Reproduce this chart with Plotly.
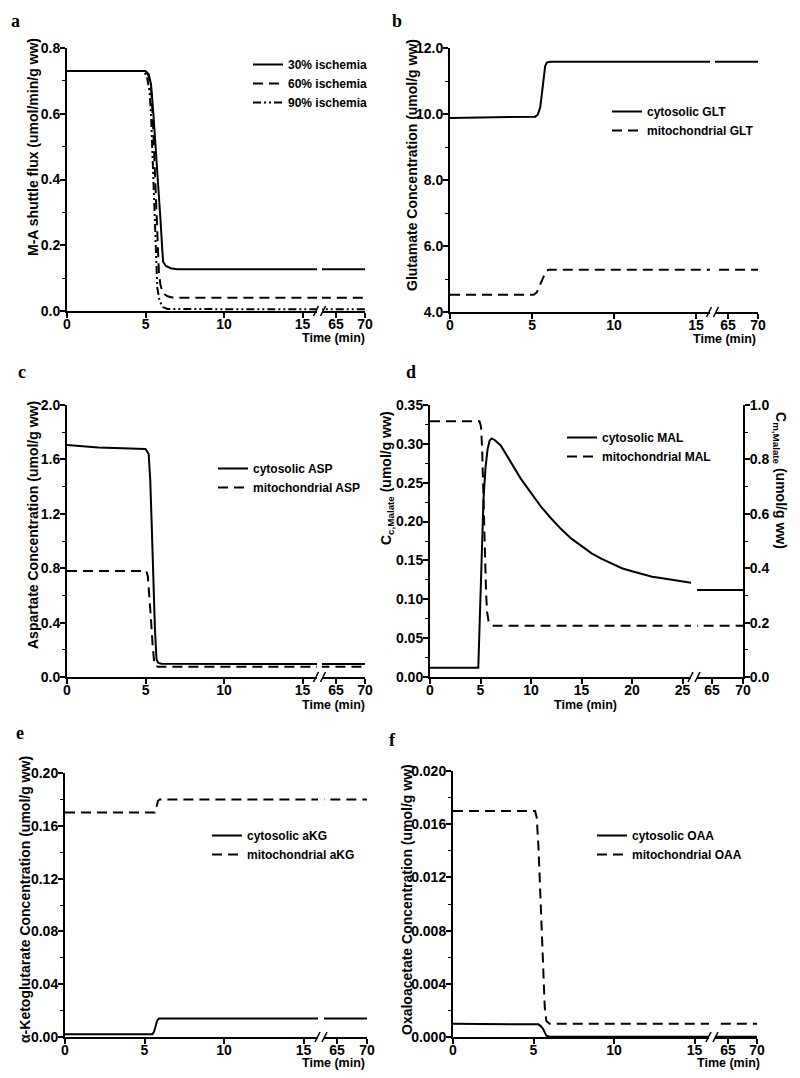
import plotly.graph_objects as go

# page body has an 8px default margin, so the figure is 8px smaller than the window
OFF = 8
W, H = 800 - OFF, 1078 - OFF

# ---------------- data ----------------
# Panel a: M-A shuttle flux
a_t30 = [0, 5.0, 5.2, 5.35, 5.5, 5.65, 5.8, 5.95, 6.05, 6.12, 6.3, 6.6, 7.0, 16.5, 62, 70]
a_v30 = [0.73, 0.73, 0.72, 0.69, 0.60, 0.50, 0.40, 0.28, 0.20, 0.15, 0.137, 0.130, 0.127, 0.127, 0.127, 0.127]
a_t60 = [0, 5.0, 5.2, 5.35, 5.45, 5.55, 5.65, 5.75, 5.85, 5.95, 6.1, 6.4, 6.8, 16.5, 62, 70]
a_v60 = [0.73, 0.73, 0.715, 0.68, 0.60, 0.48, 0.35, 0.20, 0.12, 0.08, 0.055, 0.045, 0.04, 0.04, 0.04, 0.04]
a_t90 = [0, 4.9, 5.1, 5.25, 5.35, 5.45, 5.55, 5.65, 5.75, 5.9, 6.1, 6.4, 16.5, 62, 70]
a_v90 = [0.73, 0.73, 0.71, 0.67, 0.60, 0.45, 0.30, 0.15, 0.07, 0.03, 0.012, 0.006, 0.005, 0.005, 0.005]

# Panel b: glutamate
b_tc = [0, 3, 5.2, 5.35, 5.5, 5.6, 5.7, 5.8, 5.9, 6.1, 16.5, 62, 70]
b_vc = [9.88, 9.90, 9.92, 9.98, 10.2, 10.6, 11.1, 11.45, 11.56, 11.58, 11.58, 11.58, 11.58]
b_tm = [0, 5.1, 5.3, 5.5, 5.7, 5.85, 6.0, 16.5, 62, 70]
b_vm = [4.52, 4.52, 4.60, 4.85, 5.10, 5.24, 5.28, 5.28, 5.28, 5.28]

# Panel c: aspartate
c_tc = [0, 1, 2, 3, 4, 5.0, 5.2, 5.3, 5.4, 5.5, 5.6, 5.7, 5.8, 6.0, 16.5, 62, 70]
c_vc = [1.705, 1.695, 1.688, 1.683, 1.680, 1.677, 1.64, 1.45, 1.10, 0.70, 0.35, 0.13, 0.105, 0.097, 0.095, 0.095, 0.095]
c_tm = [0, 5.05, 5.15, 5.25, 5.35, 5.45, 5.55, 5.65, 5.8, 16.5, 62, 70]
c_vm = [0.78, 0.78, 0.74, 0.60, 0.42, 0.24, 0.11, 0.08, 0.075, 0.075, 0.075, 0.075]

# Panel d: malate (cytosolic on left axis, mitochondrial on right axis)
d_tc = [0, 4.78, 5.3, 5.5, 5.7, 5.9, 6.1, 6.4, 7, 8, 9, 10, 11, 12, 13, 14, 15, 16, 17, 18,
        19, 20, 21, 22, 23, 24, 25, 26, 62, 70]
d_vc = [0.012, 0.012, 0.23, 0.27, 0.293, 0.304, 0.307, 0.305, 0.298, 0.277, 0.255, 0.237, 0.219,
        0.204, 0.190, 0.178, 0.168, 0.159, 0.152, 0.146, 0.140, 0.136, 0.132, 0.129, 0.127,
        0.125, 0.123, 0.121, 0.112, 0.112]
d_tm = [0, 4.9, 5.05, 5.15, 5.25, 5.35, 5.45, 5.55, 5.65, 5.8, 6.0, 6.3, 26, 62, 70]
d_vm = [0.94, 0.94, 0.92, 0.85, 0.72, 0.57, 0.43, 0.31, 0.24, 0.205, 0.193, 0.188, 0.188, 0.188, 0.188]

# Panel e: alpha-ketoglutarate
e_tc = [0, 5.5, 5.6, 5.7, 5.8, 5.9, 16.5, 62, 70]
e_vc = [0.002, 0.002, 0.004, 0.009, 0.0125, 0.014, 0.014, 0.014, 0.014]
e_tm = [0, 5.65, 5.75, 5.85, 5.95, 16.5, 62, 70]
e_vm = [0.17, 0.17, 0.174, 0.179, 0.18, 0.18, 0.18, 0.18]

# Panel f: oxaloacetate
f_tc = [0, 5.1, 5.3, 5.45, 5.6, 5.7, 5.8, 6.0, 16.5, 62, 70]
f_vc = [0.001, 0.001, 0.00095, 0.00082, 0.0006, 0.00035, 0.0001, 0.00002, 0.00002, 0.00002, 0.00002]
f_tm = [0, 5.1, 5.2, 5.3, 5.4, 5.5, 5.6, 5.7, 5.8, 6.0, 16.5, 62, 70]
f_vm = [0.017, 0.017, 0.0165, 0.0145, 0.0115, 0.008, 0.0048, 0.0022, 0.0012, 0.001, 0.001, 0.001, 0.001]

# tick labels
ticks_seg1_15 = [0, 5, 10, 15]
ticks_seg1_25 = [0, 5, 10, 15, 20, 25]
ticks_seg2 = [65, 70]

# ---------------- layout helpers ----------------
FONT = "Liberation Sans"
def px(x):
    return (x - OFF) / W
def py(y):
    return 1 - (y - OFF) / H

# pixel geometry of each panel (window pixels)
panels = [
    dict(x0=67, xe1=317, xs2=322, x1=365, ytop=48, ybot=311, r1=[0, 15.92], r2=[62.59, 70],
         yr=[0, 0.8], ydt=0.2, ymin=0.1, yfmt='.1f', xt1=ticks_seg1_15),
    dict(x0=450, xe1=710, xs2=715, x1=758, ytop=48, ybot=312, r1=[0, 15.85], r2=[62.83, 70],
         yr=[4, 12], ydt=2, ymin=1, yfmt='.1f', xt1=ticks_seg1_15),
    dict(x0=67, xe1=317, xs2=322, x1=365, ytop=405, ybot=677, r1=[0, 15.92], r2=[62.59, 70],
         yr=[0, 2.0], ydt=0.4, ymin=0.2, yfmt='.1f', xt1=ticks_seg1_15),
    dict(x0=430, xe1=691, xs2=697, x1=743, ytop=405, ybot=677, r1=[0, 25.84], r2=[62.58, 70],
         yr=[0, 0.35], ydt=0.05, ymin=0.025, yfmt='.2f', xt1=ticks_seg1_25),
    dict(x0=65, xe1=318, xs2=324, x1=367, ytop=773, ybot=1037, r1=[0, 15.91], r2=[62.83, 70],
         yr=[0, 0.2], ydt=0.04, ymin=0.02, yfmt='.2f', xt1=ticks_seg1_15),
    dict(x0=453, xe1=709, xs2=715, x1=757, ytop=771, ybot=1037, r1=[0, 15.9], r2=[62.76, 70],
         yr=[0, 0.02], ydt=0.004, ymin=0.002, yfmt='.3f', xt1=ticks_seg1_15),
]

tickfont = dict(family=FONT, size=14, color='black', weight='bold')
layout = {}
for i, p in enumerate(panels):
    n1, n2, ny = 2 * i + 1, 2 * i + 2, i + 1
    xa1 = 'xaxis' if n1 == 1 else f'xaxis{n1}'
    xa2 = f'xaxis{n2}'
    ya = 'yaxis' if ny == 1 else f'yaxis{ny}'
    yref = 'y' if ny == 1 else f'y{ny}'
    common_x = dict(showline=True, linewidth=2, linecolor='black', ticks='outside', ticklen=5,
                    tickwidth=1.5, tickcolor='black', showgrid=False, zeroline=False,
                    tickfont=tickfont, fixedrange=True, anchor=yref, automargin=False,
                    ticklabelstandoff=-6)
    layout[xa1] = dict(common_x, domain=[px(p['x0']), px(p['xe1'])], range=p['r1'],
                       tickvals=p['xt1'])
    layout[xa2] = dict(common_x, domain=[px(p['xs2']), px(p['x1'])], range=p['r2'],
                       tickvals=ticks_seg2)
    layout[ya] = dict(domain=[py(p['ybot']), py(p['ytop'])], range=p['yr'],
                      anchor='x' if n1 == 1 else f'x{n1}', automargin=False, fixedrange=True,
                      showline=True, linewidth=2, linecolor='black', ticks='outside', ticklen=5,
                      tickwidth=1.5, tickcolor='black', showgrid=False, zeroline=False,
                      dtick=p['ydt'], tick0=p['yr'][0], tickformat=p['yfmt'], tickfont=tickfont,
                      ticklabelstandoff=-3,
                      minor=dict(dtick=p['ymin'], ticks='outside', ticklen=3, tickwidth=1.2,
                                 tickcolor='black', showgrid=False))

# right axis for panel d
layout['yaxis7'] = dict(overlaying='y4', side='right', anchor='x8', range=[0, 1.0], dtick=0.2,
                        tickformat='.1f', showline=True, linewidth=2, linecolor='black',
                        ticks='outside', ticklen=5, tickwidth=1.5, tickcolor='black',
                        showgrid=False, zeroline=False, tickfont=tickfont, automargin=False,
                        fixedrange=True, ticklabelstandoff=-3,
                        minor=dict(dtick=0.1, ticks='outside', ticklen=3, tickwidth=1.2,
                                   tickcolor='black', showgrid=False))

fig = go.Figure()

DASH = '10px,6px'
DASHDOT = '8px,3px,2px,3px,2px,3px'

def add_series(t, v, i, name, dash, yaxis=None):
    n1, n2 = 2 * i + 1, 2 * i + 2
    xr1 = 'x' if n1 == 1 else f'x{n1}'
    xr2 = f'x{n2}'
    yr = yaxis or ('y' if i == 0 else f'y{i + 1}')
    leg = 'legend' if i == 0 else f'legend{i + 1}'
    line = dict(color='black', width=2, dash=dash)
    fig.add_trace(go.Scatter(x=t, y=v, mode='lines', name=name, line=line, xaxis=xr1, yaxis=yr,
                             legend=leg, legendgroup=f'g{i}', showlegend=True))
    fig.add_trace(go.Scatter(x=t, y=v, mode='lines', name=name, line=line, xaxis=xr2, yaxis=yr,
                             legend=leg, legendgroup=f'g{i}', showlegend=False))

add_series(a_t30, a_v30, 0, '30% ischemia', 'solid')
add_series(a_t60, a_v60, 0, '60% ischemia', DASH)
add_series(a_t90, a_v90, 0, '90% ischemia', DASHDOT)
add_series(b_tc, b_vc, 1, 'cytosolic GLT', 'solid')
add_series(b_tm, b_vm, 1, 'mitochondrial GLT', DASH)
add_series(c_tc, c_vc, 2, 'cytosolic ASP', 'solid')
add_series(c_tm, c_vm, 2, 'mitochondrial ASP', DASH)
add_series(d_tc, d_vc, 3, 'cytosolic MAL', 'solid')
add_series(d_tm, d_vm, 3, 'mitochondrial MAL', DASH, yaxis='y7')
add_series(e_tc, e_vc, 4, 'cytosolic aKG', 'solid')
add_series(e_tm, e_vm, 4, 'mitochondrial aKG', DASH)
add_series(f_tc, f_vc, 5, 'cytosolic OAA', 'solid')
add_series(f_tm, f_vm, 5, 'mitochondrial OAA', DASH)

# legends: (text start x px, first row center y px)
legend_pos = [(288, 64), (647, 111), (253, 468), (602, 437), (247, 835), (632, 835)]
legfont = dict(family=FONT, size=12, color='black', weight='bold')
for i, (lx, ly) in enumerate(legend_pos):
    key = 'legend' if i == 0 else f'legend{i + 1}'
    layout[key] = dict(x=px(lx - 40), y=py(ly - 14), xanchor='left', yanchor='top',
                       bgcolor='rgba(0,0,0,0)', borderwidth=0, font=legfont,
                       tracegroupgap=0, itemclick=False, itemdoubleclick=False)

annotations = []
# y-axis titles (center x px, center y px, text, angle)
ytitles = [
    (33, 147, 'M-A shuttle flux (umol/min/g ww)', -90),
    (412, 165, 'Glutamate Concentration (umol/g ww)', -90),
    (33, 525, 'Aspartate Concentration (umol/g ww)', -90),
    (387, 478, 'C<sub>c,Malate</sub> (umol/g ww)', -90),
    (780, 480, 'C<sub>m,Malate</sub> (umol/g ww)', 90),
    (25, 900, 'α-Ketoglutarate Concentration (umol/g ww)', -90),
    (407, 900, 'Oxaloacetate Concentration (umol/g ww)', -90),
]
for cx, cy, txt, ang in ytitles:
    annotations.append(dict(x=px(cx), y=py(cy), xref='paper', yref='paper', text=txt,
                            textangle=ang, showarrow=False, xanchor='center', yanchor='middle',
                            font=dict(family=FONT, size=14, color='black', weight='bold')))
# x-axis titles
xtitles = [(367, 338, 'right'), (758, 339, 'right'), (367, 705, 'right'),
           (585, 705, 'center'), (367, 1063, 'right'), (762, 1063, 'right')]
for xx, yy, anc in xtitles:
    annotations.append(dict(x=px(xx), y=py(yy), xref='paper', yref='paper', text='Time (min)',
                            showarrow=False, xanchor=anc, yanchor='middle',
                            font=dict(family=FONT, size=12.5, color='black', weight='bold')))
# panel letters
letters = [(22, 21, 'a'), (404, 21, 'b'), (28, 372, 'c'), (418, 372, 'd'), (26, 733, 'e'), (398, 740, 'f')]
for xx, yy, t in letters:
    annotations.append(dict(x=px(xx), y=py(yy), xref='paper', yref='paper', text=t,
                            showarrow=False, xanchor='right', yanchor='middle',
                            font=dict(family='Liberation Serif', size=18, color='black', weight='bold')))

# axis break marks "//"
shapes = []
for p in panels:
    xg = (p['xe1'] + p['xs2']) / 2
    y0 = p['ybot']
    for dx in (-3.5, 3.5):
        shapes.append(dict(type='line', xref='paper', yref='paper',
                           x0=px(xg + dx - 2.5), y0=py(y0 + 5), x1=px(xg + dx + 2.5), y1=py(y0 - 5),
                           line=dict(color='black', width=1.5)))

fig.update_layout(width=W, height=H, autosize=False,
                  margin=dict(l=0, r=0, t=0, b=0, pad=0, autoexpand=False),
                  paper_bgcolor='white', plot_bgcolor='white', annotations=annotations,
                  shapes=shapes, **layout)

fig.write_html("out.html", config=dict(displayModeBar=False))
